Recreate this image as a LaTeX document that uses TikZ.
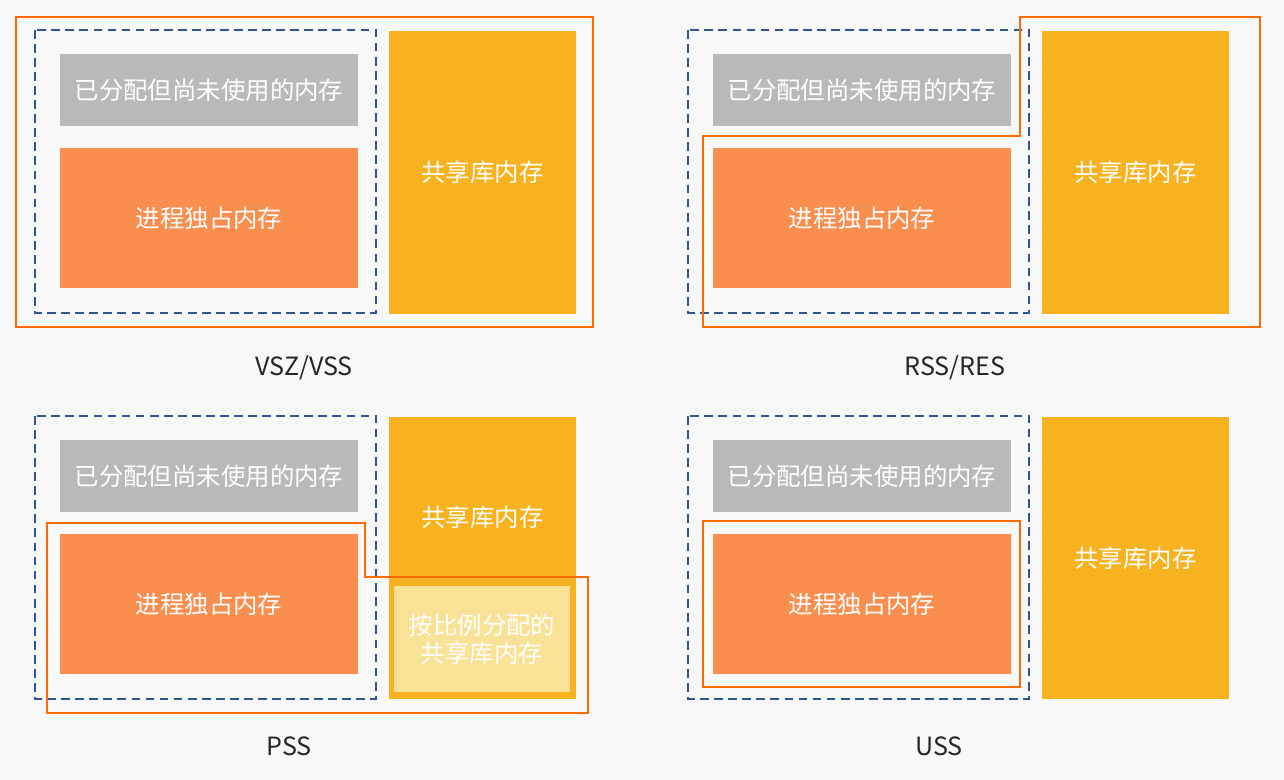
\documentclass[tikz,border=0pt]{standalone}
\usepackage{fontspec}
\setmainfont{Noto Sans CJK SC}
\usepackage{xcolor}

\definecolor{pagebg}{HTML}{F8F8F8}
\definecolor{unusedgray}{HTML}{B9B9B9}
\definecolor{privorange}{HTML}{FA8E4E}
\definecolor{libyellow}{HTML}{F8B21F}
\definecolor{shareyellow}{HTML}{F9E195}
\definecolor{lineorange}{HTML}{FF6A00}
\definecolor{lineblue}{HTML}{2F5597}

\tikzset{
    membox/.style={inner sep=0pt, text=white, align=center,
        font=\fontsize{13.9}{16}\selectfont},
    unusedbox/.style={membox, fill=unusedgray, minimum width=5.96cm, minimum height=1.46cm},
    privbox/.style={membox, fill=privorange, minimum width=5.96cm, minimum height=2.82cm},
    libbox/.style={membox, fill=libyellow, minimum width=3.74cm, minimum height=5.66cm},
    sharebox/.style={membox, fill=shareyellow, minimum width=3.52cm, minimum height=2.12cm,
        font=\fontsize{13.9}{15.9}\selectfont},
    vmline/.style={draw=lineblue, line width=1.15pt, dash pattern=on 5pt off 3pt},
    countline/.style={draw=lineorange, line width=1.2pt},
    caption/.style={text=black!85, font=\fontsize{14.3}{16}\selectfont}
}

\begin{document}
\begin{tikzpicture}[x=0.02cm, y=-0.02cm]
        % page background, 1284 x 780
        \fill[pagebg] (0,0) rectangle (1284,780);

        % VSZ/VSS: everything
        \node[unusedbox] (unused1) at (209,90) {已分配但尚未使用的内存};
        \node[privbox] (priv1) at (209,218) {进程独占内存};
        \node[libbox] (lib1) at (482.5,172.5) {共享库内存};
        \draw[vmline] (35,30) rectangle (376,313);
        \draw[countline] (16,17) rectangle (593,327);
        \node[caption] (vsz) at (304,368) {VSZ/VSS};

        % RSS/RES: resident part
        \node[unusedbox] (unused2) at (862,90) {已分配但尚未使用的内存};
        \node[privbox] (priv2) at (862,218) {进程独占内存};
        \node[libbox] (lib2) at (1135.5,172.5) {共享库内存};
        \draw[vmline] (688,30) rectangle (1029,313);
        \draw[countline] (703,327) -- (703,136) -- (1020,136) -- (1020,17)
            -- (1260,17) -- (1260,327) -- cycle;
        \node[caption] (rss) at (955,368) {RSS/RES};

        % PSS: private part plus a share of the libraries
        \node[unusedbox] (unused3) at (209,476) {已分配但尚未使用的内存};
        \node[privbox] (priv3) at (209,604) {进程独占内存};
        \node[libbox] (lib3) at (482.5,558) {};
        \node[membox] (lib3text) at (482.5,517) {共享库内存};
        \node[sharebox] (share3) at (482,639) {按比例分配的\\共享库内存};
        \draw[vmline] (35,416) rectangle (376,699);
        \draw[countline] (47,713) -- (47,523) -- (365,523) -- (365,577)
            -- (588,577) -- (588,713) -- cycle;
        \node[caption] (pss) at (289,746) {PSS};

        % USS: private part only
        \node[unusedbox] (unused4) at (862,476) {已分配但尚未使用的内存};
        \node[privbox] (priv4) at (862,604) {进程独占内存};
        \node[libbox] (lib4) at (1135.5,558) {共享库内存};
        \draw[vmline] (688,416) rectangle (1029,699);
        \draw[countline] (703,521) rectangle (1020,687);
        \node[caption] (uss) at (939,746) {USS};
    \end{tikzpicture}
\end{document}
